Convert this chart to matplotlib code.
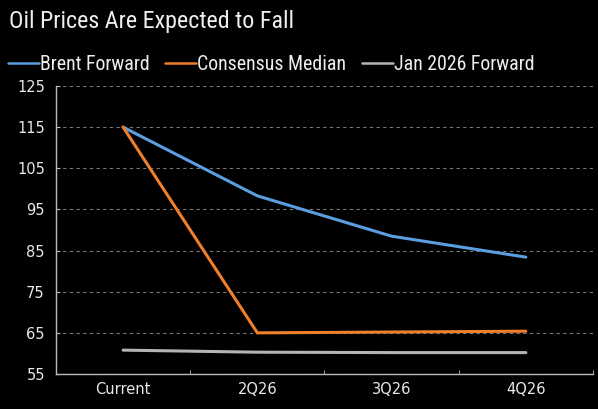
import matplotlib
matplotlib.use("Agg")
import matplotlib.pyplot as plt
from matplotlib.ticker import FixedLocator
from matplotlib import font_manager

categories = ["Current", "2Q26", "3Q26", "4Q26"]
brent_forward = [115.0, 98.3, 88.5, 83.4]
consensus_median = [115.0, 65.0, 65.2, 65.4]
jan2026_forward = [60.8, 60.3, 60.2, 60.2]
y_ticks = [55, 65, 75, 85, 95, 105, 115, 125]

names = sorted({f.name for f in font_manager.fontManager.ttflist})
narrow = None
for cand in ['Liberation Sans Narrow', 'DejaVu Sans Condensed', 'Roboto Condensed', 'Open Sans Condensed']:
    if cand in names:
        narrow = cand
        break
plt.rcParams['font.family'] = ['DejaVu Sans']
title_family = [narrow] if narrow else ['DejaVu Sans']

fig = plt.figure(figsize=(5.98, 4.09), dpi=100, facecolor='black')
ax = fig.add_axes([0.0936, 0.0856, 0.8980, 0.7041], facecolor='black')

x = list(range(len(categories)))
ax.plot(x, brent_forward, color='#5a9ee0', lw=2.2, label='Brent Forward', solid_capstyle='round')
ax.plot(x, consensus_median, color='#f07f2b', lw=2.2, label='Consensus Median', solid_capstyle='round')
ax.plot(x, jan2026_forward, color='#b4b4b4', lw=2.2, label='Jan 2026 Forward', solid_capstyle='round')

ax.set_xlim(-0.5, 3.5)
ax.set_ylim(55, 125)
ax.set_yticks(y_ticks)
ax.set_xticks(x)
ax.set_xticklabels(categories)
ax.xaxis.set_minor_locator(FixedLocator([0.5, 1.5, 2.5, 3.5]))
ax.tick_params(axis='x', which='major', length=0, pad=6, colors='#e8e8e8', labelsize=10.5)
ax.tick_params(axis='x', which='minor', direction='in', length=3, color='#bbbbbb')
ax.tick_params(axis='y', direction='in', length=3, color='#bbbbbb', colors='#e8e8e8', labelsize=10.5, pad=8)
ax.grid(axis='y', color='#777777', linestyle=(0, (3, 3)), lw=0.8)
for s in ['top', 'right']:
    ax.spines[s].set_visible(False)
for s in ['left', 'bottom']:
    ax.spines[s].set_color('#bbbbbb')
    ax.spines[s].set_linewidth(1.0)

fs_title = 17.3 if narrow else 13.8
fs_leg = 14.3 if narrow else 11.8
fig.text(0.015, 0.948, "Oil Prices Are Expected to Fall", color='#eeeeee', fontsize=fs_title,
         va='center', ha='left', family=title_family)
leg = fig.legend(loc='center left', bbox_to_anchor=(0.013, 0.842), ncol=3, frameon=False,
                 handlelength=1.55, handletextpad=0.05, columnspacing=0.8,
                 prop={'family': title_family, 'size': fs_leg}, borderaxespad=0, borderpad=0)
for t in leg.get_texts():
    t.set_color('#eeeeee')
for h in leg.get_lines():
    h.set_linewidth(1.8)

fig.savefig('out.png', dpi=100, facecolor='black')
